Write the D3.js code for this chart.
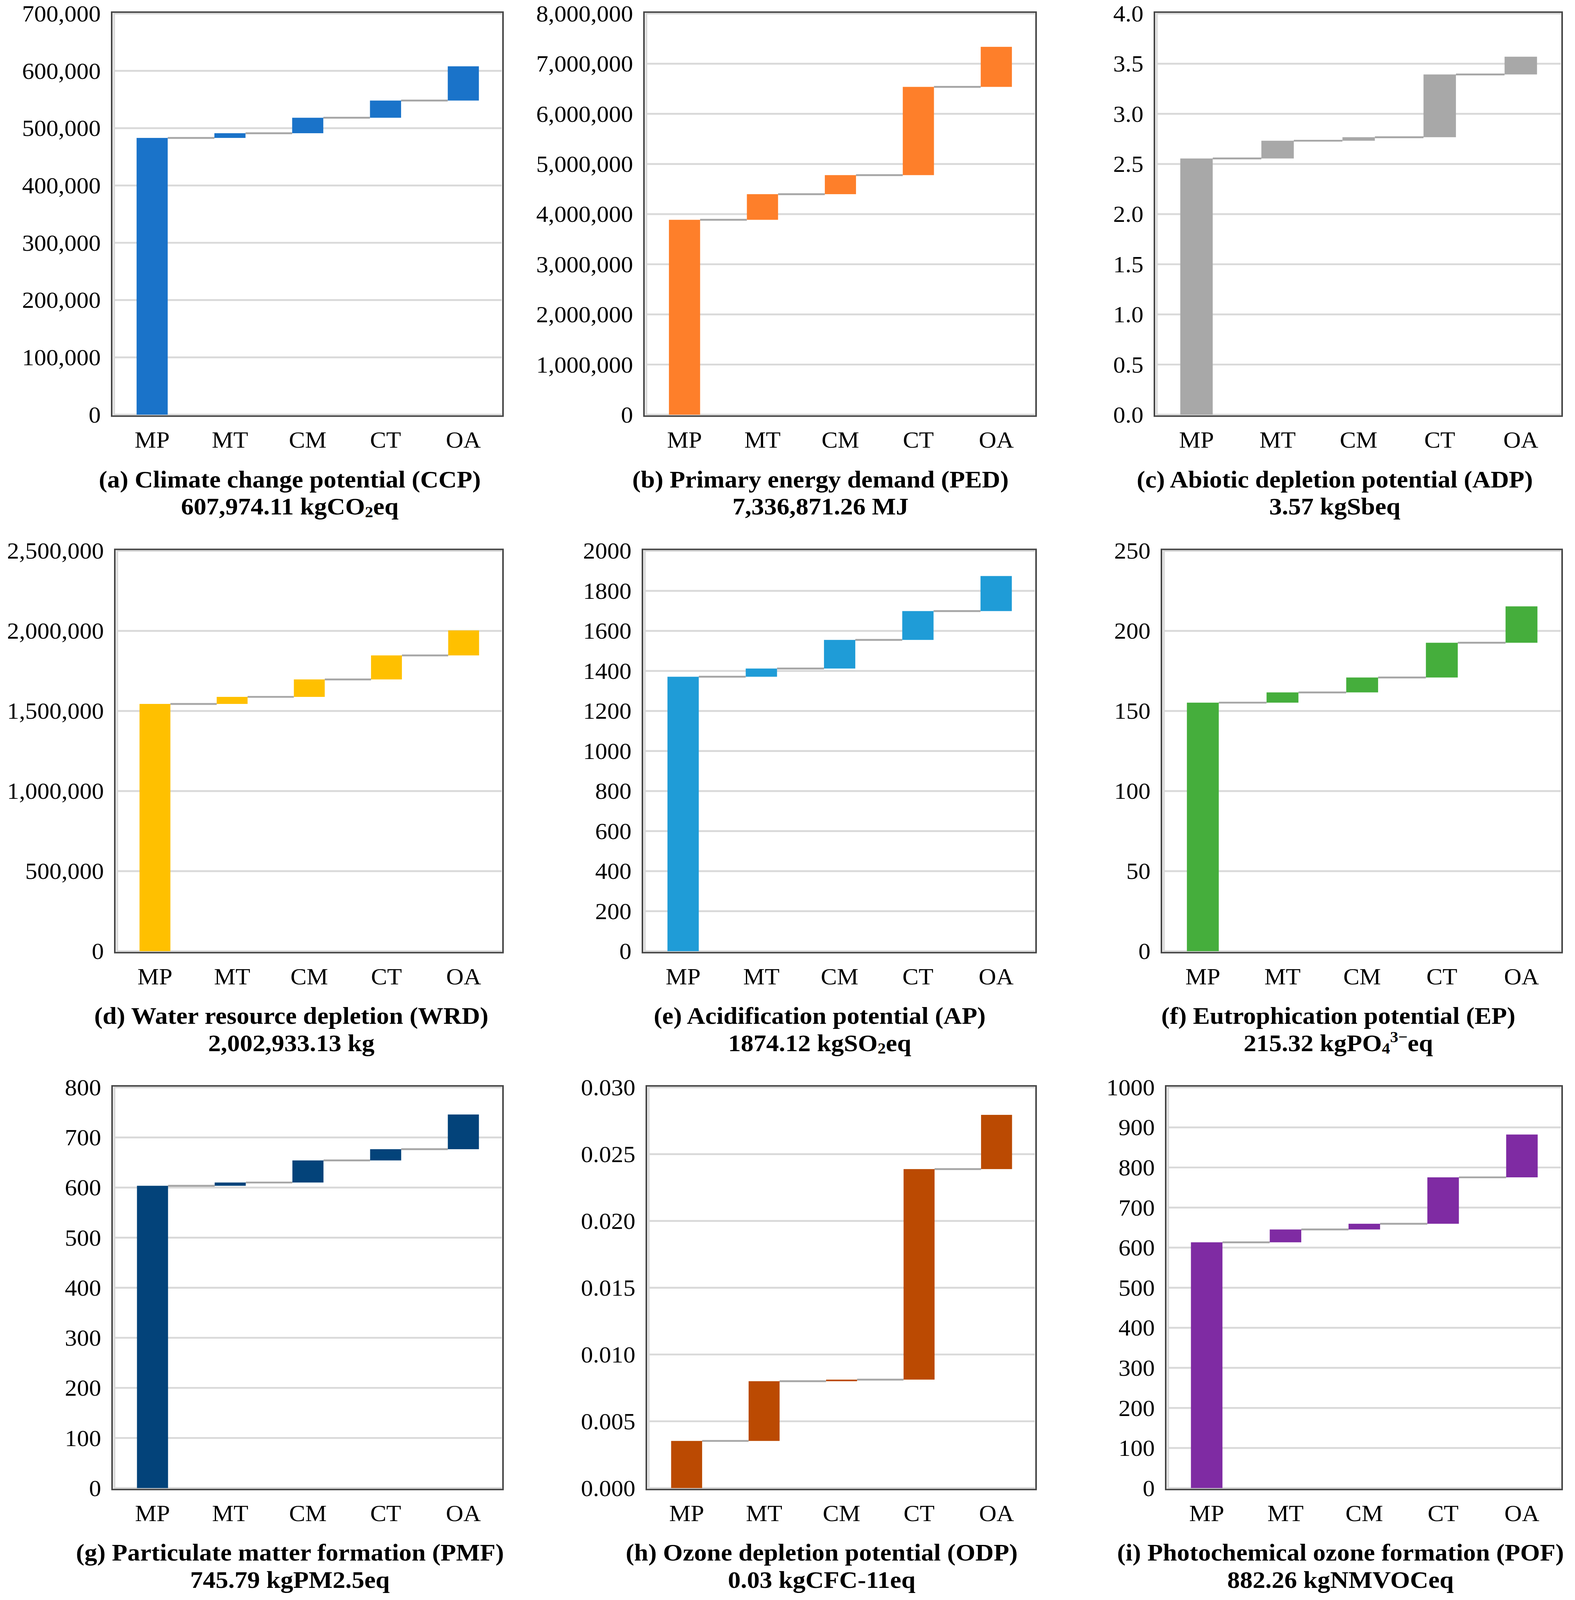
<!DOCTYPE html>
<html>
<head>
<meta charset="utf-8">
<script src="https://cdn.jsdelivr.net/npm/d3@7"></script>
<style>
  html, body { margin: 0; padding: 0; background: #fff; overflow: hidden; }
  #my_dataviz svg { display: block; width: 100vw; height: 100vh; }
  svg text { font-family: "Liberation Serif", "Times New Roman", serif; fill: #000; }
</style>
</head>
<body>
<div id="my_dataviz"></div>
<script>
// categories (stages)
var categories = ["MP", "MT", "CM", "CT", "OA"];

// contribution of each stage
var ccpValues = [483000, 8200, 27000, 30000, 59774.11];
var pedValues = [3887000, 511000, 380000, 1760000, 798871.26];
var adpValues = [2.555, 0.177, 0.035, 0.626, 0.177];
var wrdValues = [1544000, 44000, 109000, 150000, 155933.13];
var apValues = [1371, 41, 143, 144, 175.12];
var epValues = [155.2, 6.4, 9.3, 21.7, 22.72];
var pmfValues = [603.5, 6.5, 44.1, 22.4, 69.29];
var odpValues = [0.00353, 0.00447, 0.00012, 0.01576, 0.00406];
var pofValues = [613.3, 32.0, 14.3, 115.8, 106.86];

// y axis ticks
var ccpTicks = [0, 100000, 200000, 300000, 400000, 500000, 600000, 700000];
var pedTicks = [0, 1000000, 2000000, 3000000, 4000000, 5000000, 6000000, 7000000, 8000000];
var adpTicks = [0, 0.5, 1.0, 1.5, 2.0, 2.5, 3.0, 3.5, 4.0];
var wrdTicks = [0, 500000, 1000000, 1500000, 2000000, 2500000];
var apTicks = [0, 200, 400, 600, 800, 1000, 1200, 1400, 1600, 1800, 2000];
var epTicks = [0, 50, 100, 150, 200, 250];
var pmfTicks = [0, 100, 200, 300, 400, 500, 600, 700, 800];
var odpTicks = [0, 0.005, 0.010, 0.015, 0.020, 0.025, 0.030];
var pofTicks = [0, 100, 200, 300, 400, 500, 600, 700, 800, 900, 1000];

// titles and totals ([text, "sub" | "super" | ""])
var titles = [
    "(a) Climate change potential (CCP)",
    "(b) Primary energy demand (PED)",
    "(c) Abiotic depletion potential (ADP)",
    "(d) Water resource depletion (WRD)",
    "(e) Acidification potential (AP)",
    "(f) Eutrophication potential (EP)",
    "(g) Particulate matter formation (PMF)",
    "(h) Ozone depletion potential (ODP)",
    "(i) Photochemical ozone formation (POF)"
];
var totals = [
    [["607,974.11 kgCO", ""], ["2", "sub"], ["eq", ""]],
    [["7,336,871.26 MJ", ""]],
    [["3.57 kgSbeq", ""]],
    [["2,002,933.13 kg", ""]],
    [["1874.12 kgSO", ""], ["2", "sub"], ["eq", ""]],
    [["215.32 kgPO", ""], ["4", "sub"], ["3\u2212", "super"], ["eq", ""]],
    [["745.79 kgPM2.5eq", ""]],
    [["0.03 kgCFC-11eq", ""]],
    [["882.26 kgNMVOCeq", ""]]
];

// styles
var colors = ["#1a73c9", "#fe7f2a", "#a8a8a8", "#ffc000", "#1f9cd7", "#45ae3c", "#03437a", "#bb4a02", "#7f2ba3"];
var formats = [d3.format(","), d3.format(","), d3.format(".1f"), d3.format(","), d3.format("d"),
               d3.format("d"), d3.format("d"), d3.format(".3f"), d3.format("d")];

// frame of every plot area (left, right) and rows (top, bottom)
var frameX = [[286, 1288], [1649, 2653], [2956, 4000],
              [294, 1288], [1645, 2653], [2974, 4000],
              [287, 1288], [1655, 2653], [2985, 4000]];
var rowY = [[37, 1130], [1501, 2592], [2963, 4055]];
var titleShift = [-45, -50, -60];

var panels = [
    { values: ccpValues, ticks: ccpTicks },
    { values: pedValues, ticks: pedTicks },
    { values: adpValues, ticks: adpTicks },
    { values: wrdValues, ticks: wrdTicks },
    { values: apValues, ticks: apTicks },
    { values: epValues, ticks: epTicks },
    { values: pmfValues, ticks: pmfTicks },
    { values: odpValues, ticks: odpTicks },
    { values: pofValues, ticks: pofTicks }
];

// the whole figure is laid out on a 4033 x 4360 canvas and fitted to the window
var svg = d3.select("#my_dataviz")
    .append("svg")
    .attr("viewBox", "0 0 4033 4360")
    .attr("preserveAspectRatio", "none");

panels.forEach(function (p, i) {
    var fx0 = frameX[i][0], fx1 = frameX[i][1];
    var y0 = rowY[Math.floor(i / 3)][0], y1 = rowY[Math.floor(i / 3)][1];
    var g = svg.append("g");

    // running totals for the waterfall
    var ends = d3.cumsum(p.values);
    var data = categories.map(function (c, k) {
        return { cat: c, start: k === 0 ? 0 : ends[k - 1], end: ends[k] };
    });

    // X axis
    var x = d3.scaleBand()
        .domain(categories)
        .range([fx0 + 4, fx1 - 2])
        .paddingInner(0.6)
        .paddingOuter(0.3);

    // Y axis
    var y = d3.scaleLinear()
        .domain([0, p.ticks[p.ticks.length - 1]])
        .range([y1, y0]);

    // gridlines
    g.selectAll("line.grid")
        .data(p.ticks)
        .enter()
        .append("line")
        .attr("x1", fx0 + 6)
        .attr("x2", fx1 - 3)
        .attr("y1", function (d) { return y(d); })
        .attr("y2", function (d) { return y(d); })
        .attr("stroke", "#d9d9d9")
        .attr("stroke-width", 5);

    // light left axis line
    g.append("line")
        .attr("x1", fx0 + 6).attr("x2", fx0 + 6)
        .attr("y1", y0 - 2).attr("y2", y1 + 2)
        .attr("stroke", "#d9d9d9")
        .attr("stroke-width", 5);

    // y tick labels
    var yAxis = g.append("g")
        .attr("transform", "translate(" + (fx0 - 28) + ",0)")
        .call(d3.axisLeft(y).tickValues(p.ticks).tickFormat(formats[i]).tickSize(0).tickPadding(0));
    yAxis.select(".domain").remove();
    yAxis.selectAll("text")
        .attr("font-family", "Liberation Serif")
        .attr("font-size", 62)
        .attr("fill", "#000")
        .attr("dy", "0.34em");

    // connectors between bars
    g.selectAll("line.conn")
        .data(data.slice(0, -1))
        .enter()
        .append("line")
        .attr("x1", function (d) { return x(d.cat) + x.bandwidth(); })
        .attr("x2", function (d, k) { return x(categories[k + 1]); })
        .attr("y1", function (d) { return y(d.end); })
        .attr("y2", function (d) { return y(d.end); })
        .attr("stroke", "#a6a6a6")
        .attr("stroke-width", 5);

    // bars
    g.selectAll("rect.bar")
        .data(data)
        .enter()
        .append("rect")
        .attr("x", function (d) { return x(d.cat); })
        .attr("width", x.bandwidth())
        .attr("y", function (d) { return y(d.end); })
        .attr("height", function (d) { return Math.max(1, y(d.start) - y(d.end)); })
        .attr("fill", colors[i]);

    // frame
    g.append("rect")
        .attr("x", fx0)
        .attr("y", y0 - 4)
        .attr("width", fx1 - fx0)
        .attr("height", y1 - y0 + 8)
        .attr("fill", "none")
        .attr("stroke", "#444")
        .attr("stroke-width", 4);

    // x labels
    var xAxis = g.append("g")
        .attr("transform", "translate(0," + (y1 + 90) + ")")
        .call(d3.axisBottom(x).tickSize(0).tickPadding(0));
    xAxis.select(".domain").remove();
    xAxis.selectAll("text")
        .attr("font-family", "Liberation Serif")
        .attr("font-size", 62)
        .attr("fill", "#000")
        .attr("dy", 0);

    // title lines
    var cx = (fx0 + fx1) / 2 + titleShift[i % 3];
    g.append("text")
        .attr("x", cx)
        .attr("y", y1 + 198)
        .attr("text-anchor", "middle")
        .attr("font-size", 65)
        .attr("font-weight", "bold")
        .text(titles[i]);

    var t2 = g.append("text")
        .attr("x", cx)
        .attr("y", y1 + 272)
        .attr("text-anchor", "middle")
        .attr("font-size", 65)
        .attr("font-weight", "bold");
    totals[i].forEach(function (s) {
        var ts = t2.append("tspan").text(s[0]);
        if (s[1] === "sub") ts.attr("font-size", 42).attr("baseline-shift", "-18%");
        if (s[1] === "super") ts.attr("font-size", 42).attr("baseline-shift", "55%");
    });
});
</script>
</body>
</html>
